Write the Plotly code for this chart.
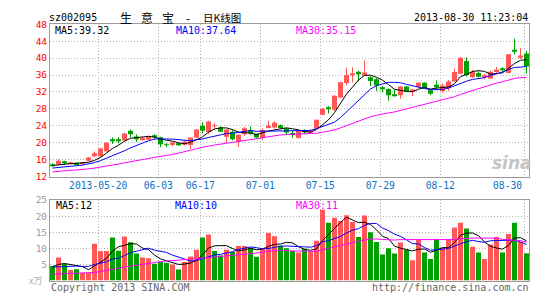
import plotly.graph_objects as go
import pandas as pd

W, H = 545, 300

# ---------------- data ----------------
opens = [14.8, 14.85, 15.4, 15.0, 15.25, 15.05, 15.7, 16.8, 16.8, 18.0,
         20.65, 20.65, 20.5, 22.8, 21.45, 20.75, 20.7, 21.6, 21.3, 19.6,
         19.45, 19.8, 19.5, 19.45, 21.2, 24.0, 22.5, 24.0, 23.6, 21.4,
         22.6, 20.3, 22.0, 22.9, 22.1, 21.1, 23.5, 23.6, 24.1, 23.4,
         22.3, 21.1, 22.8, 22.4, 23.3, 26.6, 28.3, 27.8, 30.7, 34.1,
         36.1, 36.8, 35.9, 35.5, 35.0, 33.1, 32.7, 31.3, 31.2, 33.3,
         32.0, 33.2, 34.2, 32.4, 33.7, 32.2, 32.9, 34.5, 36.3, 39.3,
         35.5, 36.5, 35.6, 35.2, 36.7, 37.4, 36.5, 42.0, 40.1, 41.1]
highs = [15.2, 16.1, 15.7, 15.25, 15.3, 15.3, 16.6, 17.9, 18.8, 20.1,
         21.3, 21.3, 22.3, 23.1, 22.0, 21.3, 21.7, 22.0, 21.4, 19.9,
         20.2, 19.9, 20.6, 21.3, 23.2, 24.9, 25.2, 24.6, 23.9, 23.2,
         23.0, 22.0, 23.7, 23.8, 22.2, 23.4, 25.2, 25.1, 24.3, 23.5,
         22.8, 22.9, 23.2, 23.2, 25.5, 28.1, 28.6, 31.2, 34.4, 37.8,
         37.8, 37.0, 39.5, 35.8, 35.3, 33.4, 32.8, 32.6, 33.4, 33.4,
         32.7, 34.3, 34.3, 32.5, 34.7, 34.0, 34.8, 37.5, 40.2, 40.2,
         37.2, 36.9, 36.3, 37.0, 37.9, 37.9, 41.0, 44.6, 42.4, 41.7]
lows = [14.3, 14.75, 14.8, 14.95, 14.65, 14.9, 15.6, 16.5, 16.7, 17.9,
        19.7, 19.8, 20.4, 21.2, 20.2, 20.6, 20.6, 20.8, 19.0, 18.9,
        19.3, 19.3, 19.4, 18.5, 21.1, 22.2, 22.0, 23.1, 22.5, 20.0,
        20.5, 19.0, 21.6, 21.9, 21.0, 20.6, 23.4, 23.3, 23.3, 21.8,
        21.2, 21.0, 22.0, 22.2, 23.2, 26.5, 26.9, 27.5, 30.5, 33.6,
        34.3, 34.5, 35.8, 33.4, 32.2, 31.9, 29.9, 30.9, 30.4, 32.0,
        31.0, 33.0, 32.8, 31.2, 32.6, 31.8, 32.2, 34.4, 36.2, 35.6,
        35.3, 35.4, 35.0, 35.0, 36.2, 36.6, 36.4, 40.9, 39.8, 36.4]
closes = [14.65, 15.7, 15.3, 15.2, 14.7, 15.2, 16.5, 17.5, 18.6, 20.0,
          20.5, 20.5, 22.2, 22.0, 20.8, 21.1, 21.4, 21.4, 19.6, 19.4,
          20.05, 19.4, 20.3, 21.2, 23.1, 22.8, 25.0, 24.0, 22.6, 23.1,
          20.8, 21.9, 23.4, 22.2, 21.2, 23.0, 24.0, 24.7, 23.5, 22.4,
          21.8, 22.8, 22.6, 22.9, 25.4, 28.0, 28.1, 31.1, 34.3, 36.0,
          36.3, 36.4, 36.6, 34.6, 33.5, 32.8, 31.2, 31.1, 33.3, 32.1,
          32.6, 34.2, 32.9, 31.6, 33.3, 33.5, 34.5, 36.7, 40.1, 36.0,
          36.8, 35.6, 35.8, 36.8, 37.3, 37.2, 40.9, 41.5, 40.6, 38.0]
volumes = [4.5, 7.2, 5.2, 3.3, 3.5, 2.4, 2.4, 11.4, 9.2, 9.2,
           13.4, 9.3, 13.7, 11.9, 8.4, 7.2, 6.9, 5.2, 5.9, 5.5,
           5.0, 3.4, 5.8, 7.5, 9.6, 13.4, 14.3, 9.2, 7.8, 9.6,
           8.9, 10.7, 10.7, 10.2, 7.4, 10.0, 14.8, 13.8, 10.8, 10.0,
           9.2, 8.7, 9.9, 9.1, 12.4, 22.0, 18.0, 19.5, 18.5, 20.3,
           18.2, 13.5, 20.2, 15.0, 12.0, 8.1, 10.0, 8.4, 11.8, 9.6,
           6.3, 12.6, 8.7, 6.7, 12.8, 10.3, 12.7, 16.5, 18.0, 16.2,
           10.5, 8.7, 6.7, 11.2, 13.5, 8.7, 14.5, 18.0, 12.0, 8.5]

# moving-average values at the start of the window
ma5_head = [14.6, 14.8, 14.95, 15.05]
ma10_head = [14.0, 14.1, 14.25, 14.4, 14.55, 14.7, 14.95, 15.3, 15.75]
ma30_head = [13.1, 13.2, 13.3, 13.4, 13.5, 13.65, 13.8, 14.0, 14.2, 14.45,
             14.7, 14.95, 15.25, 15.5, 15.8, 16.1, 16.4, 16.6, 16.8, 17.0,
             17.2, 17.5, 17.8, 18.2, 18.6, 18.95, 19.2, 19.45, 19.65]
vma5_head = [4.3, 5.0, 5.3, 5.0]
vma10_head = [4.2, 4.3, 4.4, 4.5, 4.5, 4.4, 4.4, 5.0, 5.5]
vma30_head = [2.0, 2.05, 2.1, 2.15, 2.2, 2.25, 2.3, 2.5, 2.8, 3.2,
              3.6, 3.9, 4.2, 4.5, 4.8, 5.1, 5.4, 5.7, 5.9, 6.1,
              6.2, 6.3, 6.4, 6.6, 6.8, 7.0, 7.2, 7.4, 7.6]

tick_index = [8, 18, 25, 35, 45, 55, 65, 79]
tick_labels = ["2013-05-20", "06-03", "06-17", "07-01", "07-15", "07-29", "08-12", "08-30"]
price_ticks = [12, 16, 20, 24, 28, 32, 36, 40, 44, 48]
vol_ticks = [5, 10, 15, 20, 25]

header_labels = ["MA5:39.32", "MA10:37.64", "MA30:35.15"]
vol_labels = ["MA5:12", "MA10:10", "MA30:11"]

# ---------------- styling ----------------
RED = "#ff5656"
GREEN = "#00a000"
MONO = "DejaVu Sans Mono"
CJK = "Noto Sans CJK SC"
GRID = "#b4b4b4"
BORDER = "#9a9a9a"

n = len(closes)
idx = list(range(n))


def moving_avg(values, win, head):
    s = pd.Series(values, dtype=float).rolling(win).mean()
    s.iloc[:len(head)] = head
    return s.tolist()


ma5 = moving_avg(closes, 5, ma5_head)
ma10 = moving_avg(closes, 10, ma10_head)
ma30 = moving_avg(closes, 30, ma30_head)
vma5 = moving_avg(volumes, 5, vma5_head)
vma10 = moving_avg(volumes, 10, vma10_head)
vma30 = moving_avg(volumes, 30, vma30_head)

candle_col = [RED if c >= o else GREEN for o, c in zip(opens, closes)]
vol_col = []
for i, (o, c) in enumerate(zip(opens, closes)):
    if c > o:
        vol_col.append(RED)
    elif c < o:
        vol_col.append(GREEN)
    else:
        prev = closes[i - 1] if i > 0 else c
        vol_col.append(RED if c >= prev else GREEN)

MIN_BODY = 0.22
body_base, body_h = [], []
for o, c in zip(opens, closes):
    h = abs(c - o)
    if h < MIN_BODY:
        body_base.append((o + c) / 2 - MIN_BODY / 2)
        body_h.append(MIN_BODY)
    else:
        body_base.append(min(o, c))
        body_h.append(h)

fig = go.Figure()

# wicks
fig.add_trace(go.Bar(x=idx, y=[h - l for h, l in zip(highs, lows)], base=lows,
                     width=1 / 6, marker=dict(color=candle_col, line=dict(width=0)),
                     xaxis="x", yaxis="y", hoverinfo="skip"))
# bodies
fig.add_trace(go.Bar(x=idx, y=body_h, base=body_base, width=5 / 6,
                     marker=dict(color=candle_col, line=dict(width=0)),
                     xaxis="x", yaxis="y", hoverinfo="skip"))

for series, col in ((ma5, "#000000"), (ma10, "#0000ff"), (ma30, "#ff00ff")):
    fig.add_trace(go.Scatter(x=idx, y=series, mode="lines", line=dict(color=col, width=1),
                             xaxis="x", yaxis="y", hoverinfo="skip"))

# volume
fig.add_trace(go.Bar(x=idx, y=volumes, width=5 / 6,
                     marker=dict(color=vol_col, line=dict(width=0)),
                     xaxis="x2", yaxis="y2", hoverinfo="skip"))
for series, col in ((vma5, "#000000"), (vma10, "#0000ff"), (vma30, "#ff00ff")):
    fig.add_trace(go.Scatter(x=idx, y=series, mode="lines", line=dict(color=col, width=1),
                             xaxis="x2", yaxis="y2", hoverinfo="skip"))

grid_x = [t - 0.37 for t in tick_index]
xdom = [50 / W, 529 / W]
xrange_ = [-2.5 / 6, n - 1 + 2.5 / 6]

axis_common = dict(showline=True, mirror=True, linecolor=BORDER, linewidth=1,
                   zeroline=False, ticks="", showgrid=True, gridcolor=GRID,
                   griddash="1px,2px", gridwidth=1)

fig.update_layout(
    width=W, height=H, margin=dict(l=0, r=0, t=0, b=0),
    paper_bgcolor="white", plot_bgcolor="white",
    showlegend=False, barmode="overlay",
    xaxis=dict(domain=xdom, range=xrange_, anchor="y", tickmode="array",
               tickvals=grid_x, ticktext=tick_labels[:-1] + [""],
               tickfont=dict(family=MONO, size=9.7, color="#0a74c4"), **axis_common),
    xaxis2=dict(domain=xdom, range=xrange_, anchor="y2", matches="x", tickmode="array",
                tickvals=grid_x, showticklabels=False, **axis_common),
    yaxis=dict(domain=[1 - 177 / H, 1 - 19 / H], range=[12, 48], anchor="x",
               tickmode="array", tickvals=price_ticks,
               tickfont=dict(family=MONO, size=9.5, color="#ff0000"), **axis_common),
    yaxis2=dict(domain=[1 - 285 / H, 1 - 201.5 / H], range=[0, 25], anchor="x2",
                tickmode="array", tickvals=vol_ticks,
                tickfont=dict(family=MONO, size=9.5, color="#999999"), **axis_common),
)


def ann(text, x, y, color, size, xanchor="left", family=MONO):
    return dict(text=text, x=x / W, y=1 - y / H, xref="paper", yref="paper",
                xanchor=xanchor, yanchor="middle", showarrow=False,
                font=dict(family=family, size=size, color=color))


anns = [
    ann("sz002095", 47, 12, "#000000", 10),
    ann("生", 126, 12, "#000000", 12, "center", CJK),
    ann("意", 147, 12, "#000000", 12, "center", CJK),
    ann("宝", 168, 12, "#000000", 12, "center", CJK),
    ann("-", 187.5, 12, "#000000", 12, "center", CJK),
    ann("日K线图", 201, 12, "#000000", 10.5, "left", CJK),
    ann("2013-08-30 11:23:04", 530, 12, "#000000", 10, "right"),
    ann(header_labels[0], 53, 25, "#000000", 10),
    ann(header_labels[1], 174, 25, "#0000ff", 10),
    ann(header_labels[2], 294, 25, "#ff00ff", 10),
    ann(vol_labels[0], 54, 207, "#000000", 10),
    ann(vol_labels[1], 173, 207, "#0000ff", 10),
    ann(vol_labels[2], 294, 207, "#ff00ff", 10),
    ann("x万", 44, 285, "#aaaaaa", 9, "right", CJK),
    ann("Copyright 2013 SINA.COM", 49, 292, "#666666", 10),
    ann("http://finance.sina.com.cn", 531, 292, "#666666", 10, "right"),
    ann("<b><i>sina</i></b>", 512, 163, "#c4c4c4", 17, "center", "DejaVu Sans"),
]
anns.append(dict(text=tick_labels[-1], x=grid_x[-1] - 0.05, y=1 - 186 / H, xref="x", yref="paper",
                 xanchor="right", yanchor="middle", showarrow=False,
                 font=dict(family=MONO, size=9.7, color="#0a74c4")))
fig.update_layout(annotations=anns)

fig.write_html("out.html")
